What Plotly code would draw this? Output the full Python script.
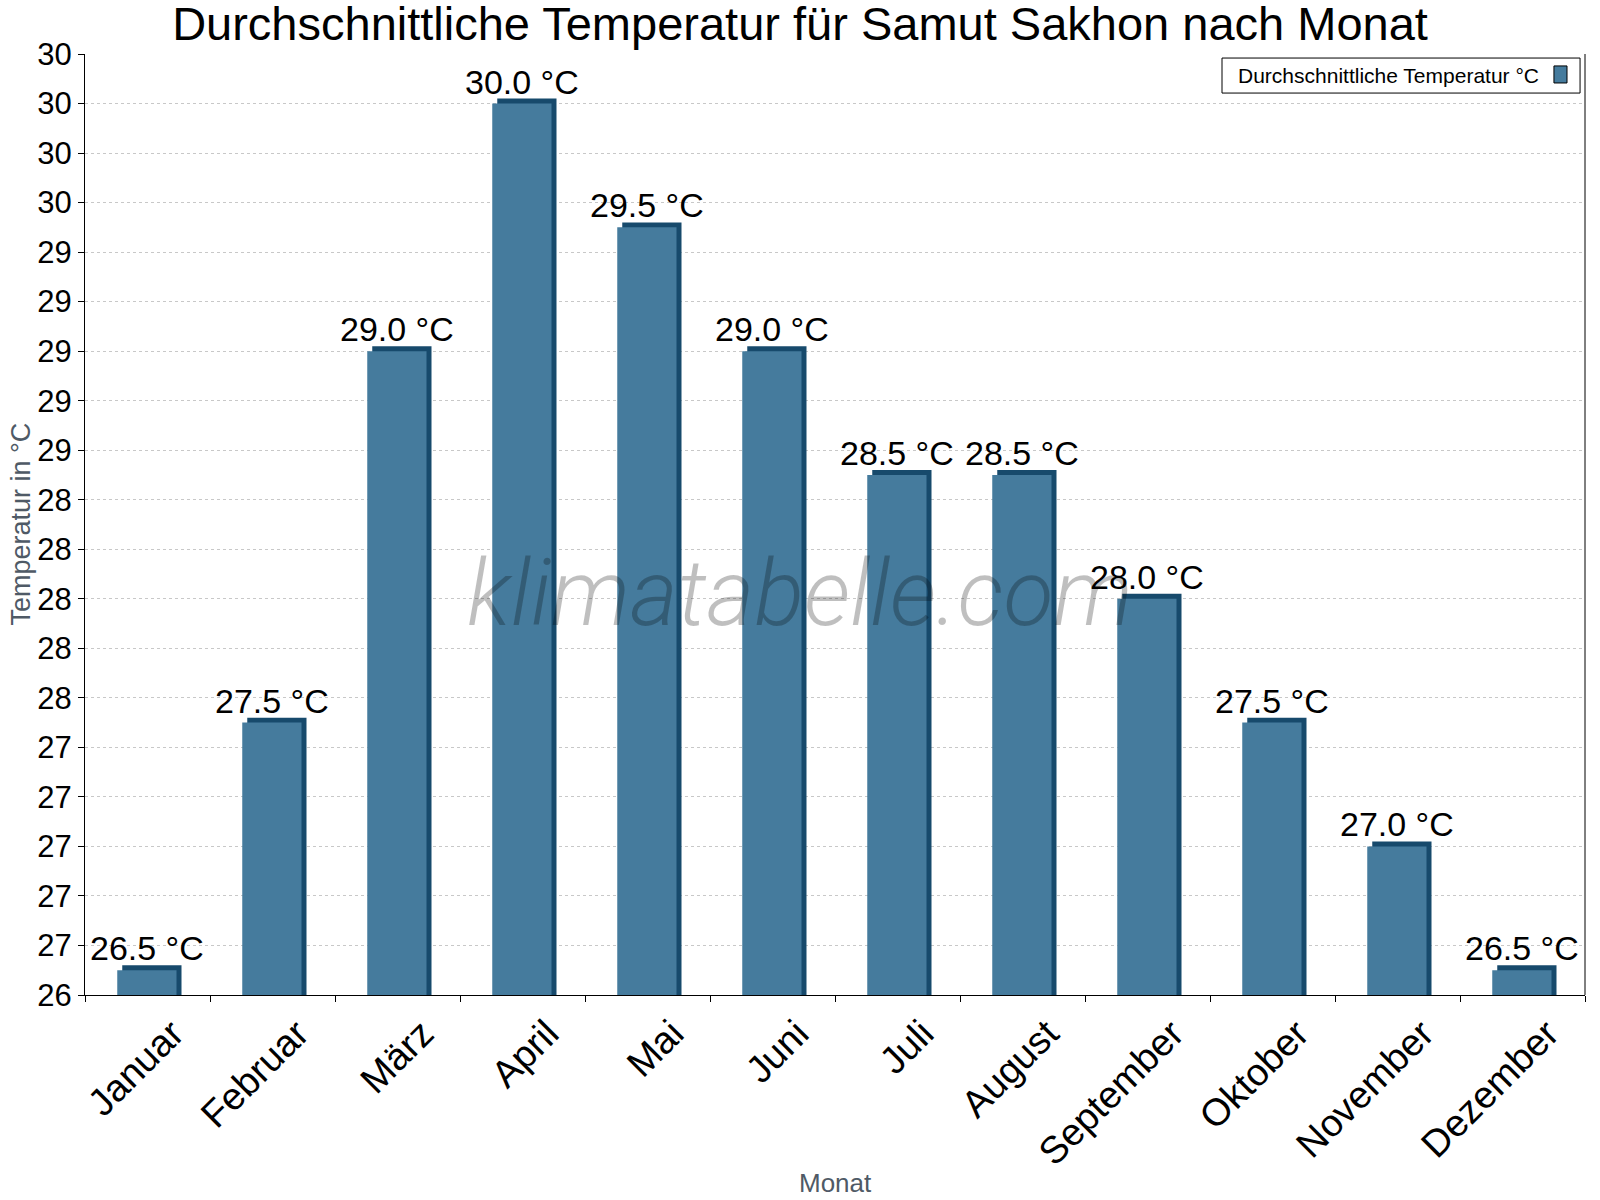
import plotly.graph_objects as go

# Monatsdaten
months = ['Januar', 'Februar', 'März', 'April', 'Mai', 'Juni',
          'Juli', 'August', 'September', 'Oktober', 'November', 'Dezember']
temps = [26.5, 27.5, 29.0, 30.0, 29.5, 29.0, 28.5, 28.5, 28.0, 27.5, 27.0, 26.5]

# y-Achse: Ticks alle 0.2, Beschriftung gerundet
y_tickvals = [26.4, 26.6, 26.8, 27.0, 27.2, 27.4, 27.6, 27.8, 28.0, 28.2,
              28.4, 28.6, 28.8, 29.0, 29.2, 29.4, 29.6, 29.8, 30.0, 30.2]
y_ticktext = ['26', '27', '27', '27', '27', '27', '28', '28', '28', '28',
              '28', '29', '29', '29', '29', '29', '30', '30', '30', '30']

labels = ['%.1f °C' % t for t in temps]

FACE = '#457b9d'
DARK = '#174a6c'
FONT = 'Liberation Sans, Arial, sans-serif'

# 3D-Effekt: dunkle Seite leicht nach rechts/oben versetzt
depth = 0.02
shadow = go.Bar(
    x=months, y=[t + depth for t in temps],
    width=0.474, offset=-0.202,
    marker=dict(color=DARK, line=dict(width=0)),
    hoverinfo='skip', showlegend=False
)
front = go.Bar(
    x=months, y=temps,
    width=0.474, offset=-0.242,
    marker=dict(color=FACE, line=dict(width=0)),
    text=labels, textposition='outside', constraintext='none',
    textfont=dict(size=34, color='black', family=FONT),
    cliponaxis=False,
    name='Durchschnittliche Temperatur °C', showlegend=False
)

layout = go.Layout(
    width=1600, height=1200,
    margin=dict(l=85, r=15, t=54, b=205),
    paper_bgcolor='white', plot_bgcolor='white',
    barmode='overlay',
    font=dict(family=FONT, color='black'),
    title=dict(
        text='Durchschnittliche Temperatur für Samut Sakhon nach Monat',
        font=dict(size=47, color='black', family=FONT),
        x=0.5, xanchor='center', xref='container',
        y=1 - 24 / 1200, yanchor='middle', yref='container'
    ),
    xaxis=dict(
        type='category', tickson='boundaries', automargin=False,
        ticks='outside', ticklen=6, tickcolor='black',
        showline=True, linecolor='black', linewidth=1,
        showgrid=False, tickangle=-45, ticklabelshift=25,
        tickfont=dict(size=38, color='black', family=FONT)
    ),
    yaxis=dict(
        range=[26.4, 30.2], automargin=False,
        tickmode='array', tickvals=y_tickvals, ticktext=y_ticktext,
        ticks='outside', ticklen=6, tickcolor='black',
        showline=True, linecolor='black', linewidth=1,
        showgrid=True, gridcolor='#c8c8c8', gridwidth=1, griddash='3px,3px',
        zeroline=False,
        tickfont=dict(size=31, color='black', family=FONT)
    ),
    showlegend=False,
)

fig = go.Figure([shadow, front], layout)

# rechte Rahmenlinie
fig.add_shape(type='line', xref='paper', yref='paper', x0=1, x1=1, y0=0, y1=1,
              line=dict(color='black', width=1))

# Legende (Symbol rechts vom Text)
fig.add_shape(type='rect', xref='paper', yref='paper',
              x0=0.758, x1=0.9967, y0=0.9585, y1=0.9957,
              line=dict(color='black', width=1), fillcolor='white', layer='above')
fig.add_shape(type='rect', xref='paper', yref='paper',
              x0=0.9793, x1=0.988, y0=0.9692, y1=0.9873,
              line=dict(color='black', width=1), fillcolor=FACE, layer='above')
fig.add_annotation(text='Durchschnittliche Temperatur °C', xref='paper', yref='paper',
                   x=0.7673, y=0.9772, xanchor='left', yanchor='middle', showarrow=False,
                   font=dict(size=21, color='black', family=FONT))

# Achsentitel
fig.add_annotation(text='Temperatur in °C', xref='paper', yref='paper',
                   x=-0.0433, y=0.5, textangle=-90, showarrow=False,
                   xanchor='center', yanchor='middle',
                   font=dict(size=27, color='#4f5a66', family=FONT))
fig.add_annotation(text='Monat', xref='paper', yref='paper',
                   x=0.5, y=-0.2, showarrow=False,
                   xanchor='center', yanchor='middle',
                   font=dict(size=26, color='#4f5a66', family=FONT))

# Wasserzeichen
fig.add_annotation(text='klimatabelle.com', xref='paper', yref='paper',
                   x=0.4767, y=0.427, showarrow=False,
                   xanchor='center', yanchor='middle',
                   font=dict(size=92, color='rgba(0,0,0,0.25)', family='Roboto',
                             style='italic', weight=300))

# Seitenrand des Browsers entfernen, keine Modebar
fig.write_html('out.html', config={'displayModeBar': False},
               post_script="document.body.style.margin='0';")
